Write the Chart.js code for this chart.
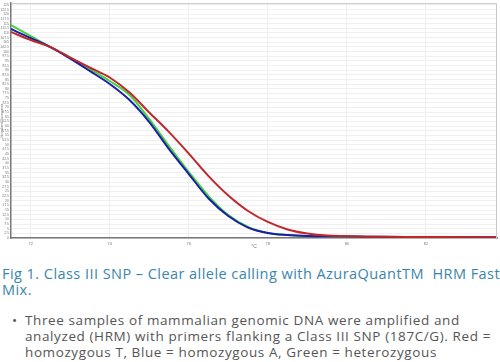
<!DOCTYPE html>
<html>
<head>
<meta charset="utf-8">
<script src="https://cdn.jsdelivr.net/npm/chart.js@4.4.1/dist/chart.umd.min.js"></script>
<style>
    body { margin: 0; background: #fff; width: 500px; height: 362px; overflow: hidden; position: relative; }
    #wrap { position: absolute; left: 0; top: 0; width: 500px; height: 250px; }
    .caption {
        position: absolute; left: 2px; top: 266px;
        font-family: "Open Sans", sans-serif; font-size: 14.5px; line-height: 16px;
        letter-spacing: 0.45px;
        color: #3a86ab; white-space: nowrap;
    }
    .bullet {
        position: absolute; left: 25px; top: 312px;
        font-family: "Open Sans", sans-serif; font-size: 13.5px; line-height: 16px;
        letter-spacing: 0.6px;
        color: #555; white-space: nowrap;
    }
    .dot { position: absolute; left: 12px; top: 312px; font-family: "Open Sans", sans-serif; font-size: 13.5px; line-height: 16px; color: #555; }
</style>
</head>
<body>
<div id="wrap"><canvas id="graphique"></canvas></div>
<div class="caption">Fig 1. Class III SNP – Clear allele calling with AzuraQuantTM&nbsp; HRM Fast<br>Mix.</div>
<div class="dot">•</div>
<div class="bullet">Three samples of mammalian genomic DNA were amplified and<br>analyzed (HRM) with primers flanking a Class III SNP (187C/G). Red =<br>homozygous T, Blue = homozygous A, Green = heterozygous</div>
<script>
// Température (°C)
const temps = [71.5, 72, 72.5, 73, 73.5, 74, 74.5, 75, 75.5, 76, 76.5, 77, 77.5, 78, 78.5, 79, 79.5, 80.5, 81.5, 82.5, 83.8];

// Fluorescence normalisée
const redT = [110.5, 106.2, 102.4, 96.8, 91.4, 86.1, 78.0, 67.3, 56.8, 45.3, 33.2, 22.8, 14.5, 8.6, 4.6, 2.4, 1.3, 0.7, 0.5, 0.5, 0.4];
const blueA = [112.1, 107.2, 102.4, 96.2, 89.5, 82.6, 74.0, 62.2, 47.7, 34.3, 21.2, 11.8, 5.6, 2.7, 1.6, 1.1, 0.9, 0.7, 0.5, 0.5, 0.4];
const greenHet = [114.2, 108.3, 102.4, 96.8, 90.6, 84.2, 76.7, 63.8, 49.3, 35.4, 22.5, 12.3, 5.9, 2.7, 1.6, 1.1, 0.9, 0.7, 0.5, 0.5, 0.4];

// Graduations
const xTicks = [72, 74, 76, 78, 80, 82];
const yTicks = [];
for (let v = 0; v <= 125; v += 2.5) yTicks.push(v);

const toPts = arr => arr.map((y, i) => ({ x: temps[i], y: y }));

// cadre haut/droite gris clair
const frame = {
    id: 'frame',
    afterDraw(chart) {
        const { ctx, chartArea: a } = chart;
        ctx.save();
        ctx.strokeStyle = '#c8c8c8';
        ctx.lineWidth = 1;
        ctx.beginPath();
        ctx.moveTo(a.left, a.top + 0.5);
        ctx.lineTo(a.right - 0.5, a.top + 0.5);
        ctx.lineTo(a.right - 0.5, a.bottom);
        ctx.stroke();
        ctx.restore();
    }
};

const line = (data, color) => ({
    data: toPts(data),
    borderColor: color,
    borderWidth: 2,
    pointRadius: 0,
    fill: false,
    cubicInterpolationMode: 'monotone'
});

new Chart(document.getElementById('graphique'), {
    type: 'line',
    data: {
        datasets: [
            line(redT, '#c0262c'),
            line(blueA, '#1c1ca8'),
            line(greenHet, '#3fd43f')
        ]
    },
    options: {
        responsive: true,
        maintainAspectRatio: false,
        animation: false,
        layout: { padding: { top: 3, right: 3, left: 0, bottom: 0 } },
        plugins: { legend: { display: false }, tooltip: { enabled: false } },
        scales: {
            x: {
                type: 'linear',
                min: 71.5,
                max: 83.8,
                afterBuildTicks: s => { s.ticks = xTicks.map(v => ({ value: v })); },
                afterFit: s => { s.height = 12; },
                grid: { color: '#eeeeee', lineWidth: 1, tickLength: 2 },
                border: { color: '#777', width: 1.5 },
                ticks: { font: { size: 4 }, color: '#777', padding: 1, maxRotation: 0 },
                title: { display: true, text: '°C', font: { size: 5 }, color: '#777', padding: 0 }
            },
            y: {
                min: 0,
                max: 126,
                afterBuildTicks: s => { s.ticks = yTicks.map(v => ({ value: v })); },
                afterFit: s => { s.width = 11; },
                grid: { color: '#f0f0f0', lineWidth: 1, tickLength: 1 },
                border: { color: '#777', width: 1.5 },
                ticks: { font: { size: 3.5 }, color: '#777', padding: 1, autoSkip: false },
                title: { display: true, text: 'Normalized Fluorescence', font: { size: 3 }, color: '#777', padding: 0 }
            }
        }
    },
    plugins: [frame]
});
</script>
</body>
</html>
